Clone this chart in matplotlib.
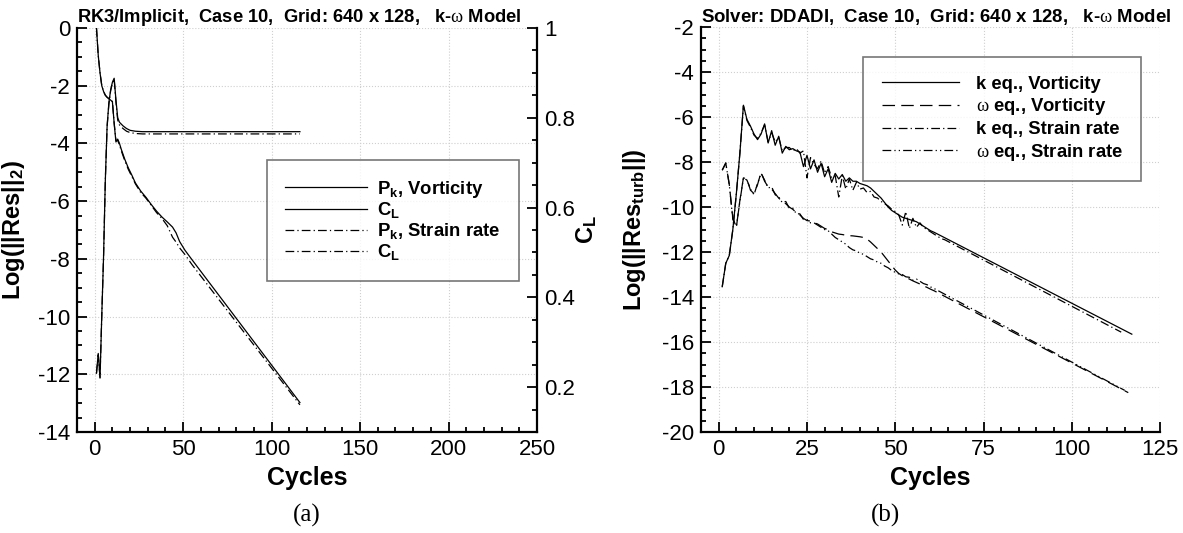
import matplotlib
matplotlib.use('Agg')
import matplotlib.pyplot as plt
from matplotlib.ticker import MultipleLocator

plt.rcParams['font.family'] = ['Liberation Sans', 'DejaVu Sans']
plt.rcParams['axes.unicode_minus'] = False
plt.rcParams['mathtext.fontset'] = 'custom'
plt.rcParams['mathtext.rm'] = 'Liberation Serif'
plt.rcParams['mathtext.bf'] = 'Liberation Sans:bold'
plt.rcParams['mathtext.it'] = 'Liberation Sans:italic'
plt.rcParams['mathtext.sf'] = 'Liberation Sans'

# ---------- (a) RK3/Implicit: residual + lift coefficient ----------
res_cyc = [1, 2, 3, 4, 5, 6, 7, 8, 9, 10, 11, 12, 13, 14, 15, 17, 19, 21, 23, 26,
           29, 32, 35, 38, 41, 44, 46, 48, 51, 55, 116]
res_vort = [0.0, -0.95, -1.55, -2.0, -2.2, -2.33, -2.4, -2.45, -2.5, -2.55, -3.3,
            -3.95, -3.85, -4.0, -4.2, -4.55, -4.85, -5.1, -5.37, -5.65, -5.87,
            -6.12, -6.35, -6.55, -6.72, -6.9, -7.1, -7.4, -7.7, -8.03, -12.98]
res_strain = [0.0, -0.95, -1.55, -2.0, -2.2, -2.33, -2.4, -2.45, -2.5, -2.55, -3.3,
              -3.9, -3.9, -4.05, -4.25, -4.6, -4.9, -5.15, -5.4, -5.7, -5.9,
              -6.15, -6.4, -6.6, -6.85, -7.25, -7.42, -7.62, -7.85, -8.2, -13.06]

cl_cyc = [1, 2, 3, 4, 5, 6, 7, 8, 9, 10, 11, 12, 13, 14, 16, 18, 20, 23, 27, 116]
cl_vort = [0.231, 0.275, 0.220, 0.36, 0.49, 0.66, 0.78, 0.833, 0.862, 0.879, 0.888,
           0.84, 0.80, 0.790, 0.782, 0.776, 0.772, 0.770, 0.769, 0.769]
cl_strain = [0.231, 0.272, 0.222, 0.36, 0.49, 0.66, 0.78, 0.83, 0.86, 0.877, 0.886,
             0.835, 0.795, 0.784, 0.776, 0.770, 0.767, 0.765, 0.764, 0.764]

# ---------- (b) DDADI: turbulence residuals ----------
k_vort_cyc = list(range(1, 64)) + [117]
k_vort = [-13.54, -12.5, -12.15, -11.0, -9.4, -7.6, -5.47, -6.1, -6.4, -6.75,
          -7.0, -6.75, -6.3, -7.15, -6.6, -7.25, -6.85, -7.6, -7.3, -7.45,
          -7.4, -7.5, -7.55, -8.2, -7.7, -8.3, -7.9, -8.45, -8.05, -8.65,
          -8.3, -8.9, -8.5, -8.75, -8.55, -8.85, -8.7, -8.85, -8.85, -8.95,
          -9.0, -9.05, -9.15, -9.3, -9.45, -9.6, -9.8, -10.0, -10.15, -10.25,
          -10.35, -10.45, -10.5, -10.55, -10.6, -10.65, -10.75, -10.85, -10.95, -11.05,
          -11.12, -11.2, -11.28, -15.65]

k_strain_cyc = list(range(1, 65)) + [114]
k_strain = [-13.54, -12.5, -12.15, -11.0, -9.4, -7.6, -5.5, -6.15, -6.45, -6.8,
            -6.95, -6.7, -6.35, -7.1, -6.7, -7.1, -6.9, -7.5, -7.35, -7.35,
            -7.5, -7.4, -7.6, -7.5, -8.7, -7.8, -8.1, -8.3, -7.95, -8.5,
            -8.2, -8.7, -8.6, -9.55, -8.6, -9.2, -8.75, -9.25, -8.9, -9.2,
            -9.15, -9.35, -9.3, -9.55, -9.6, -9.75, -9.85, -9.95, -10.1, -10.2,
            -10.35, -10.8, -10.2, -10.95, -10.5, -10.9, -10.7, -10.9, -11.0, -11.1,
            -11.2, -11.3, -11.4, -11.45, -15.56]

w_vort_cyc = list(range(1, 62)) + [116]
w_vort = [-8.36, -8.04, -9.0, -10.5, -10.9, -9.7, -8.7, -8.75, -9.25, -9.4,
          -9.0, -8.45, -8.85, -9.1, -9.2, -9.4, -9.6, -9.75, -9.85, -10.0,
          -10.1, -10.25, -10.35, -10.5, -10.6, -10.62, -10.7, -10.75, -10.85, -10.95,
          -11.0, -11.1, -11.15, -11.2, -11.22, -11.25, -11.27, -11.28, -11.3, -11.32,
          -11.35, -11.42, -11.55, -11.7, -11.85, -12.0, -12.2, -12.4, -12.6, -12.8,
          -12.95, -13.05, -13.12, -13.2, -13.28, -13.35, -13.42, -13.5, -13.57, -13.65,
          -13.72, -18.25]

w_strain_cyc = list(range(1, 62)) + [115]
w_strain = [-8.36, -8.04, -9.0, -10.55, -10.85, -9.75, -8.7, -8.8, -9.2, -9.45,
            -8.95, -8.5, -8.8, -9.15, -9.1, -9.45, -9.55, -9.8, -9.75, -10.05,
            -10.05, -10.3, -10.3, -10.55, -10.55, -10.7, -10.7, -10.8, -10.9, -11.0,
            -11.05, -11.2, -11.35, -11.45, -11.55, -11.65, -11.8, -11.9, -11.95, -12.05,
            -12.1, -12.2, -12.3, -12.35, -12.45, -12.5, -12.62, -12.7, -12.82, -12.9,
            -12.97, -13.0, -13.1, -13.12, -13.25, -13.2, -13.3, -13.4, -13.45, -13.55,
            -13.62, -18.15]

dashdot = (0, (7, 2.5, 1, 2.5))
dashdotdot = (0, (7, 2.5, 1, 2.5, 1, 2.5))
dashed = (0, (10, 5))


def style(a, spines):
    for s in ['top', 'right', 'left', 'bottom']:
        a.spines[s].set_visible(s in spines)
        a.spines[s].set_linewidth(1.6)
    a.tick_params(which='both', direction='in', width=1.3, labelsize=16,
                  top=False, right=False)
    a.tick_params(which='major', length=7, pad=5)
    a.tick_params(which='minor', length=3.6)


fig = plt.figure(figsize=(11.83, 5.33), dpi=100)

# ----- left panel -----
ax = fig.add_axes([0.0651, 0.1895, 0.3888, 0.758])
ax2 = ax.twinx()
style(ax, ['left', 'bottom'])
style(ax2, ['right'])
ax2.tick_params(which='both', right=True, left=False, labelright=True, labelleft=False)

l1, = ax.plot(res_cyc, res_vort, color='black', lw=0.9)
l3, = ax.plot(res_cyc, res_strain, color='black', lw=0.9, ls=dashdot)
l2, = ax2.plot(cl_cyc, cl_vort, color='black', lw=0.9)
l4, = ax2.plot(cl_cyc, cl_strain, color='black', lw=0.9, ls=dashdot)

ax.set_xlim(-10, 250)
ax.set_ylim(-14, 0)
ax2.set_ylim(0.1, 1.0)
ax.xaxis.set_major_locator(MultipleLocator(50))
ax.xaxis.set_minor_locator(MultipleLocator(10))
ax.yaxis.set_major_locator(MultipleLocator(2))
ax.yaxis.set_minor_locator(MultipleLocator(0.5))
ax2.yaxis.set_major_locator(MultipleLocator(0.2))
ax2.yaxis.set_minor_locator(MultipleLocator(0.05))
ax2.set_yticks([0.2, 0.4, 0.6, 0.8, 1.0])
ax2.set_yticklabels(['0.2', '0.4', '0.6', '0.8', '1'])
ax.grid(True, which='major', ls=':', color='#cfcfcf', lw=0.8)

ax.set_title('RK3/Implicit,  Case 10,  Grid: 640 x 128,   k-$\\mathrm{\\omega}$ Model',
             loc='left', fontsize=13.2, fontweight='bold', pad=3)
ax.set_xlabel('Cycles', fontsize=18, fontweight='bold')
ax.xaxis.set_label_coords(0.5, -0.085)
ax.set_ylabel('Log(||Res||$_\\mathbf{2}$)', fontsize=17, fontweight='bold')
ax.yaxis.set_label_coords(-0.108, 0.5)
ax2.set_ylabel('$\\mathbf{C_L}$', fontsize=17, fontweight='bold', rotation=90)
ax2.yaxis.set_label_coords(1.08, 0.5)

leg = ax2.legend([l1, l2, l3, l4],
                 ['$\\mathbf{P_k}$, Vorticity', '$\\mathbf{C_L}$',
                  '$\\mathbf{P_k}$, Strain rate', '$\\mathbf{C_L}$'],
                 loc='upper left', bbox_to_anchor=(0.413, 0.673),
                 prop={'weight': 'bold', 'size': 13.3}, frameon=True, fancybox=False,
                 handlelength=4.4, handletextpad=0.55, labelspacing=0.05,
                 borderpad=1.0, borderaxespad=0)
leg.get_frame().set_edgecolor('#555555')
leg.get_frame().set_linewidth(1.2)

# ----- right panel -----
axb = fig.add_axes([0.5926, 0.1895, 0.388, 0.7595])
style(axb, ['left', 'bottom'])
b1, = axb.plot(k_vort_cyc, k_vort, color='black', lw=0.9)
b2, = axb.plot(w_vort_cyc, w_vort, color='black', lw=0.9, ls=dashed)
b3, = axb.plot(k_strain_cyc, k_strain, color='black', lw=0.9, ls=dashdot)
b4, = axb.plot(w_strain_cyc, w_strain, color='black', lw=0.9, ls=dashdotdot)

axb.set_xlim(-5, 125)
axb.set_ylim(-20, -2)
axb.xaxis.set_major_locator(MultipleLocator(25))
axb.xaxis.set_minor_locator(MultipleLocator(5))
axb.yaxis.set_major_locator(MultipleLocator(2))
axb.yaxis.set_minor_locator(MultipleLocator(0.5))
axb.grid(True, which='major', ls=':', color='#cfcfcf', lw=0.8)

axb.set_title('Solver: DDADI,  Case 10,  Grid: 640 x 128,   k-$\\mathrm{\\omega}$ Model',
              loc='left', fontsize=13.4, fontweight='bold', pad=3)
axb.set_xlabel('Cycles', fontsize=18, fontweight='bold')
axb.xaxis.set_label_coords(0.5, -0.085)
axb.set_ylabel('Log(||Res$_\\mathbf{turb}$||)', fontsize=17, fontweight='bold')
axb.yaxis.set_label_coords(-0.115, 0.5)

legb = axb.legend([b1, b2, b3, b4],
                  ['k eq., Vorticity', '$\\mathrm{\\omega}$ eq., Vorticity',
                   'k eq., Strain rate', '$\\mathrm{\\omega}$ eq., Strain rate'],
                  loc='upper left', bbox_to_anchor=(0.353, 0.926),
                  prop={'weight': 'bold', 'size': 13.3}, frameon=True, fancybox=False,
                  handlelength=4.2, handletextpad=0.9, labelspacing=0.2,
                  borderpad=1.0, borderaxespad=0)
legb.get_frame().set_edgecolor('#555555')
legb.get_frame().set_linewidth(1.2)

fig.text(307 / 1183, 1 - 515 / 533, '(a)', family='Liberation Serif', fontsize=18,
         ha='center', va='center')
fig.text(885 / 1183, 1 - 515 / 533, '(b)', family='Liberation Serif', fontsize=18,
         ha='center', va='center')

fig.savefig('out.png', dpi=100)
